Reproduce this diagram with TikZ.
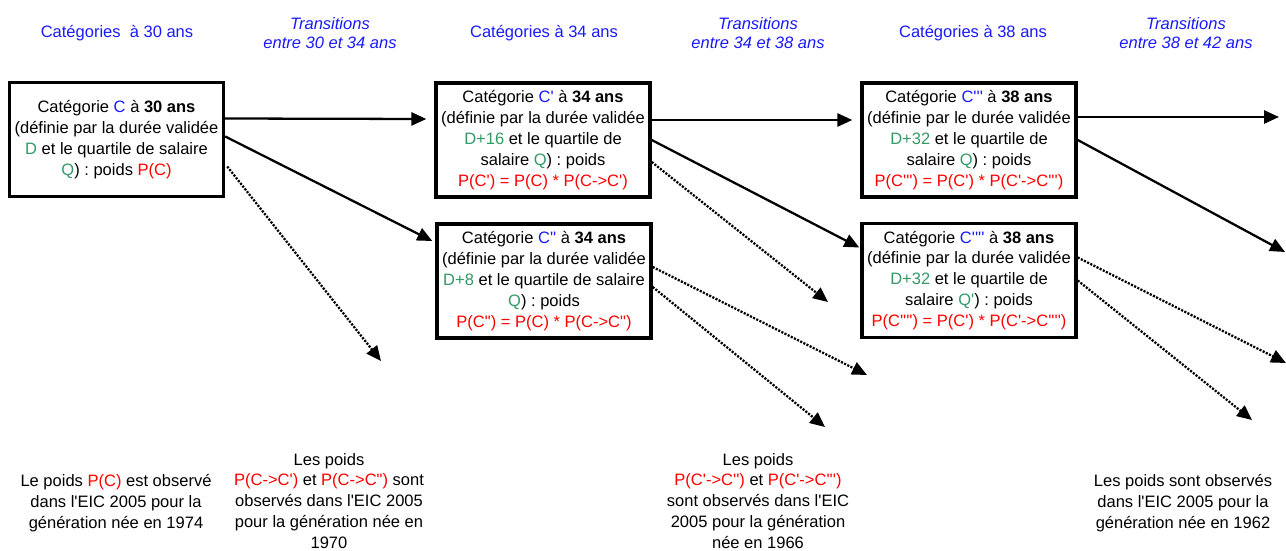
\documentclass[tikz,border=0pt]{standalone}
\usepackage{fontspec}
\setmainfont{Liberation Sans}[Ligatures=TeXOff]
\usepackage{tikz}
\usetikzlibrary{calc}
\usetikzlibrary{arrows.meta}
\definecolor{catColor}{rgb}{0.1,0.1,1}
\definecolor{durColor}{rgb}{0.2,0.6,0.4}
\definecolor{poidsColor}{rgb}{1,0,0}

\begin{document}
\begin{tikzpicture}[x=0.02cm,y=-0.02cm]

          \tikzstyle{headNode} = [catColor, align=center, font=\fontsize{9.4}{12}\selectfont];
          \tikzstyle{transNode} = [catColor, align=center, font=\fontsize{9.4}{11}\selectfont\itshape];
          \tikzstyle{catNode} = [draw, line width=2pt, align=center, inner sep=0pt, minimum width=4.28cm, minimum height=2.28cm, font=\fontsize{9.4}{11.9}\selectfont];
          \tikzstyle{noteNode} = [align=center, font=\fontsize{9.4}{11.9}\selectfont];

          \tikzstyle{solidEdge} = [line width=1.3pt, -{Triangle[length=8.5pt,width=7.5pt]}];
          \tikzstyle{dotEdge} = [solidEdge, dash pattern=on 1.2pt off 0.8pt];

          \useasboundingbox (0,0) rectangle (1286,551);

          % column headers
          \node[headNode] (head30) at (117,33) {Catégories~ à 30 ans};
          \node[transNode] (trans30) at (330,33) {Transitions\\entre 30 et 34 ans};
          \node[headNode] (head34) at (544,33) {Catégories à 34 ans};
          \node[transNode] (trans34) at (758,33) {Transitions\\entre 34 et 38 ans};
          \node[headNode] (head38) at (973,33) {Catégories à 38 ans};
          \node[transNode] (trans38) at (1186,33) {Transitions\\entre 38 et 42 ans};

          % categories
          \node[catNode] (catC) at (116.5,139.5) {Catégorie \textcolor{catColor}{C} à \textbf{30 ans}\\(définie par la durée validée\\\textcolor{durColor}{D} et le quartile de salaire\\\textcolor{durColor}{Q}) : poids \textcolor{poidsColor}{P(C)}};
          \node[catNode] (catCp) at (543,140) {Catégorie \textcolor{catColor}{C'} à \textbf{34 ans}\\(définie par la durée validée\\\textcolor{durColor}{D+16} et le quartile de\\salaire \textcolor{durColor}{Q}) : poids\\\textcolor{poidsColor}{P(C') = P(C) * P(C->C')}};
          \node[catNode] (catCs) at (544,281) {Catégorie \textcolor{catColor}{C''} à \textbf{34 ans}\\(définie par la durée validée\\\textcolor{durColor}{D+8} et le quartile de salaire\\\textcolor{durColor}{Q}) : poids\\\textcolor{poidsColor}{P(C") = P(C) * P(C->C")}};
          \node[catNode] (catCt) at (969,140) {Catégorie \textcolor{catColor}{C'''} à \textbf{38 ans}\\(définie par le durée validée\\\textcolor{durColor}{D+32} et le quartile de\\salaire \textcolor{durColor}{Q}) : poids\\\textcolor{poidsColor}{P(C''') = P(C') * P(C'->C''')}};
          \node[catNode] (catCq) at (969,280.5) {Catégorie \textcolor{catColor}{C''''} à \textbf{38 ans}\\(définie par la durée validée\\\textcolor{durColor}{D+32} et le quartile de\\salaire \textcolor{durColor}{Q'}) : poids\\\textcolor{poidsColor}{P(C'''') = P(C') * P(C'->C'''')}};

          % notes
          \node[noteNode] (note30) at (116,503) {Le poids \textcolor{poidsColor}{P(C)} est observé\\dans l'EIC 2005 pour la\\génération née en 1974};
          \node[noteNode] (note34) at (329,501) {Les poids\\\textcolor{poidsColor}{P(C->C')} et \textcolor{poidsColor}{P(C->C")} sont\\observés dans l'EIC 2005\\pour la génération née en\\1970};
          \node[noteNode] (note38) at (758,501) {Les poids\\\textcolor{poidsColor}{P(C'->C'')} et \textcolor{poidsColor}{P(C'->C''')}\\sont observés dans l'EIC\\2005 pour la génération\\née en 1966};
          \node[noteNode] (note42) at (1183,503) {Les poids sont observés\\dans l'EIC 2005 pour la\\génération née en 1962};

          % free arrow ends
          \coordinate (endC) at (381,361);
          \coordinate (endCpa) at (828,302);
          \coordinate (endCsa) at (867,375);
          \coordinate (endCsb) at (825,427);
          \coordinate (endCta) at (1279,117);
          \coordinate (endCtb) at (1285,252);
          \coordinate (endCqa) at (1286,363);
          \coordinate (endCqb) at (1252,420);

          \draw[solidEdge] ($(catC.east)+(0,-21)$) -- ($(catCp.west)+(-8,-21)$);
          \draw[solidEdge] ($(catC.east)+(0,-3)$) -- ($(catCs.west)+(-3,-40)$);
          \draw[dotEdge] ($(catC.east)+(2,27)$) -- (endC);
          \draw[solidEdge] ($(catCp.east)+(0,-20)$) -- ($(catCt.west)+(-8,-20)$);
          \draw[solidEdge] (catCp.east) -- ($(catCq.west)+(-1,-33)$);
          \draw[dotEdge] ($(catCp.east)+(0,22)$) -- (endCpa);
          \draw[dotEdge] ($(catCs.east)+(0,-14)$) -- (endCsa);
          \draw[dotEdge] ($(catCs.east)+(0,6)$) -- (endCsb);
          \draw[solidEdge] ($(catCt.east)+(0,-23)$) -- (endCta);
          \draw[solidEdge] (catCt.east) -- (endCtb);
          \draw[dotEdge] ($(catCq.east)+(0,-23)$) -- (endCqa);
          \draw[dotEdge] (catCq.east) -- (endCqb);
        \end{tikzpicture}
\end{document}
